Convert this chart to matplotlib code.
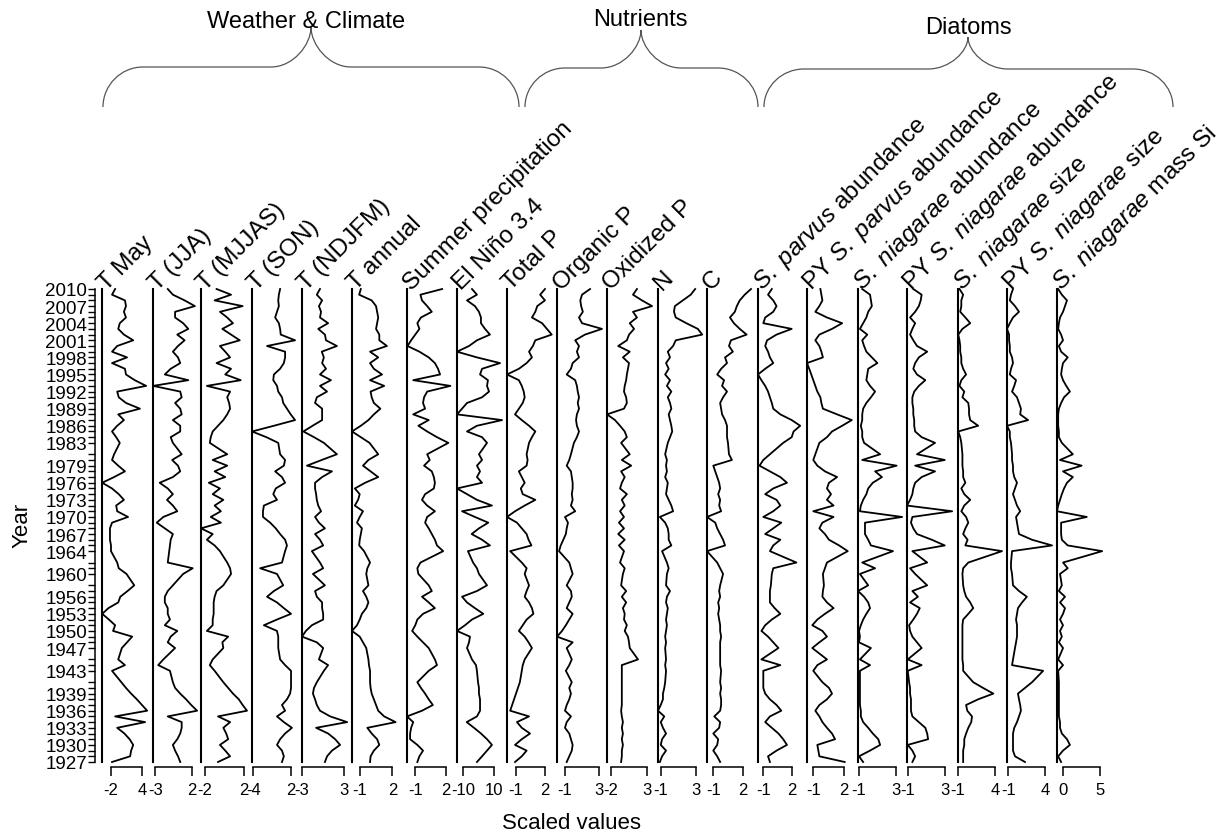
import matplotlib.pyplot as plt
from matplotlib.path import Path
from matplotlib.patches import PathPatch

plt.rcParams['font.family'] = ['Liberation Sans', 'DejaVu Sans']
plt.rcParams['mathtext.fontset'] = 'custom'
plt.rcParams['mathtext.rm'] = 'Liberation Sans'
plt.rcParams['mathtext.it'] = 'Liberation Sans:italic'

W, H = 1225, 837
TOP, BOT = 290, 763      # pixel rows of 2010 and 1927
PW = 46                  # panel width, pixels

# sample years, top to bottom
years = [2010, 2009, 2008, 2007, 2006, 2005, 2004, 2003, 2002, 2001,
         2000, 1999, 1998, 1997, 1996, 1995, 1994, 1993, 1992, 1991,
         1990, 1989, 1988, 1987, 1986, 1985, 1984, 1983, 1981, 1980,
         1979, 1978, 1977, 1976, 1975, 1974, 1973, 1972, 1971, 1970,
         1969, 1968, 1967, 1966, 1965, 1964, 1962, 1961, 1960, 1958,
         1957, 1956, 1955, 1954, 1953, 1952, 1951, 1950, 1949, 1948,
         1947, 1945, 1944, 1943, 1941, 1940, 1939, 1938, 1937, 1936,
         1935, 1934, 1933, 1932, 1931, 1930, 1929, 1928, 1927]

t_may = [-1.2, -1.8, 0.7, 0.9, 0.5, 0.9, -0.3, -0.6, 0.5, 2.3,
         -0.8, -1.8, 1.1, -1.8, 0.7, 0.9, 2.6, 4.8, -0.8, -0.5,
         0.9, 3.6, -0.6, 0.5, -0.8, -1.8, -1.0, -0.3, -1.4, -1.8,
         -0.6, 0.7, -1.4, -3.7, -1.8, -0.5, 0.5, -1.0, -0.8, 1.3,
         -1.8, -2.2, -2.2, -2.2, -2.0, -2.0, -0.8, -0.5, 1.0, 2.5,
         1.2, -0.2, -0.6, -2.5, -3.7, -2.4, -1.2, -1.6, 2.1, 1.1,
         0.1, -0.6, 0.7, -1.8, 0.0, 0.9, 1.9, 3.0, 4.0, 5.0,
         -1.2, 4.6, -0.8, 0.6, 1.6, 2.3, 1.9, 1.7, -1.8]

t_jja = [-1.3, -0.6, 1.0, 2.4, -0.3, -0.3, 0.8, 1.5, 0.0, 1.0,
         0.1, -0.6, 0.1, 0.4, -0.9, -1.7, 1.5, -3.3, 0.4, 0.6,
         -0.3, 0.4, 0.6, -0.6, 0.4, 0.4, -0.9, -0.6, 0.6, -0.7,
         0.1, 0.4, -0.6, -2.4, -1.3, -0.6, -1.4, -0.6, 0.0, -1.9,
         -2.8, -1.7, -0.6, -0.9, -1.0, -1.1, -1.3, 2.1, 0.8, -0.6,
         -1.3, -1.7, -1.7, -1.3, -1.3, -1.0, -1.7, 0.0, -0.9, -1.3,
         -0.3, -1.9, -2.6, -1.0, -0.6, -0.3, 0.4, 1.2, 1.9, 2.7,
         -1.3, 0.6, 0.6, 0.4, 0.0, -0.6, -0.3, 0.1, 0.4]

t_mjjas = [-0.8, 0.7, -1.0, 1.9, -0.45, 0.3, 0.9, -0.2, 0.7, 1.6,
           -0.45, 0.1, 0.6, -0.8, 0.7, 0.1, 1.7, -1.8, 0.6, 0.3,
           0.5, 0.6, 0.3, -0.1, -0.65, -1.2, -1.4, -1.5, 0.3, -1.2,
           0.3, -1.0, 0.1, -1.6, -0.45, -1.2, -0.1, -1.0, -0.35, -1.4,
           -0.35, -2.41, -1.2, -1.8, -1.0, -0.45, 0.3, 0.6, 0.7, -0.1,
           -0.8, -1.0, -1.1, -1.1, -1.1, -1.2, -1.2, -1.8, 0.4, -0.2,
           -0.1, -1.2, -1.5, -1.0, -0.1, 0.4, 0.9, 1.5, 1.9, 2.35,
           -0.65, 0.6, -0.1, 0.2, 0.4, -0.45, 0.1, 0.6, -0.65]

t_son = [0.3, 0.1, 0.0, 0.1, -0.2, -0.5, 0.1, 0.3, 0.4, 2.7,
         -1.8, 1.1, 1.1, 0.9, 0.3, -0.7, -0.8, -0.2, 0.0, 0.6,
         0.8, 1.4, 2.0, 2.7, -0.7, -4.21, -1.9, 0.0, 0.3, 1.1,
         0.9, -0.5, 0.6, 1.1, -0.4, -0.8, -0.2, -2.3, -2.45, -2.45,
         -1.3, -0.4, 0.3, 1.1, 1.4, 1.1, 0.6, -2.9, -0.2, 0.8,
         -0.7, -1.8, -0.2, 0.9, 2.05, -0.2, -2.3, -0.2, 0.0, 0.0,
         0.0, 0.3, 1.1, 2.05, 2.05, 2.05, 1.9, 1.4, 0.6, 1.1,
         -0.2, 0.9, 2.2, 1.1, 0.3, -0.2, 0.6, 0.9, 0.6]

t_ndjfm = [-0.45, -0.9, -0.15, -0.6, -0.3, -0.45, 0.7, -0.7, 0.25, 0.4,
           1.95, -0.2, 0.1, -0.15, 0.4, -0.45, 1.1, -0.45, 0.55, -0.9,
           -1.15, -0.15, -0.15, -0.15, -1.5, -2.8, -1.3, 0.1, 1.95, -0.2,
           -2.3, 1.25, -0.15, -1.15, -1.15, -1.0, -0.9, -0.7, -0.3, -1.15,
           -0.6, 0.25, -1.15, -0.45, 0.0, -1.6, -0.45, 0.0, -1.45, 0.25,
           -1.15, -0.9, -0.15, -0.15, 0.0, 0.0, -1.6, -2.45, -3.0, -0.9,
           0.0, -0.6, 0.7, 0.1, -0.9, -1.3, -1.45, -1.15, -0.9, -0.45,
           1.0, 3.4, -1.0, 0.7, 1.7, 2.4, 1.25, 0.55, 0.25]

t_annual = [-0.9, -1.05, 0.1, 0.5, 0.6, 0.7, 0.6, 0.5, 0.8, 0.8,
            1.5, -0.05, 0.7, -0.05, 0.3, 1.05, -0.05, 1.25, 0.0, 0.1,
            0.3, 0.9, 0.3, -0.2, -0.9, -1.71, -0.9, -0.1, 0.7, -0.2,
            -0.7, 0.0, 0.7, -0.5, -1.45, -1.0, -1.15, -1.45, -0.7, -1.0,
            -1.25, -0.8, -0.9, -1.0, -1.05, -0.6, -0.05, -0.3, -0.4, -0.2,
            -0.7, -0.4, -0.2, -0.4, -0.8, -1.0, -1.25, -1.71, -1.0, -0.7,
            -0.4, -0.2, -0.15, -0.05, -0.05, 0.0, 0.1, 0.3, 0.5, 0.7,
            1.25, 2.3, -0.3, 0.1, 0.6, 0.8, 0.3, 0.0, -0.05]

summer_precip = [1.6, -0.5, -0.35, 0.15, 0.6, -0.45, -0.8, -0.6, -1.0, -1.4,
                 -1.75, -0.6, 0.3, 0.9, 1.2, 1.4, -1.2, 2.4, 0.15, -0.15,
                 -0.25, -0.05, -1.2, 0.3, -0.7, 0.15, 1.1, 2.2, 0.15, 0.4,
                 -0.15, 0.6, 0.8, 0.9, 0.8, -0.05, -0.35, 0.15, 0.9, 0.15,
                 -0.05, 0.3, 0.6, 0.9, 1.1, 1.7, -0.5, -0.8, -0.7, 0.3,
                 0.6, -0.35, 0.3, 0.9, -0.25, -0.8, -1.0, -1.3, -0.8, -0.25,
                 0.3, 0.9, 1.1, 0.3, -0.8, -0.45, -0.05, 0.3, 0.7, -0.35,
                 -1.8, -1.2, -1.4, -1.5, -1.5, -0.8, -0.25, -0.6, -0.8]

el_nino = [-4.4, -1.2, -7.6, -2.5, 0.1, 1.4, 1.4, 4.0, 7.2, -1.2,
           -6.3, -14.06, -1.2, 13.7, 2.1, 0.8, 5.9, 5.3, 6.6, 2.1,
           -7.6, -10.8, -14.06, 15.0, -1.2, -7.6, 2.1, 5.3, 0.1, 2.1,
           -1.2, 0.8, -1.2, 2.1, -14.06, -7.6, -1.2, 8.5, -10.8, -2.5,
           6.1, 0.1, -4.6, 2.1, 7.2, -7.0, -3.7, -1.2, 0.1, 5.3,
           -1.2, -10.8, -7.6, -2.5, 2.9, -4.4, -8.9, -14.06, -5.7, -6.3,
           -7.6, -4.4, -1.8, -1.2, -0.5, 0.1, 0.1, 0.8, 0.8, 0.8,
           -1.2, -7.8, -3.1, 1.4, 5.3, 8.5, 5.3, 2.1, -1.2]

total_p = [2.0, 1.5, 2.0, 1.2, 1.0, 0.65, 1.7, 2.2, 2.7, 1.0,
           0.75, 0.35, 0.65, 0.1, -0.7, -1.93, -0.7, -0.4, -0.2, -0.1,
           -0.3, -0.7, -1.1, -0.4, 0.35, 1.0, 0.65, 0.35, 0.1, 0.2,
           0.1, -0.7, -0.4, -0.1, -0.5, -0.3, 1.0, -0.1, -1.1, -1.93,
           -0.9, -0.4, 0.1, 0.3, 0.6, -1.6, -0.4, 0.1, -0.1, 0.35,
           0.1, -0.1, 0.35, 0.65, 0.8, 0.1, -0.3, -0.7, -0.1, 0.3,
           0.65, -0.1, -0.3, -0.4, -0.6, -0.8, -1.0, -1.2, -1.4, -1.6,
           0.35, -0.9, -0.4, 0.45, -0.4, -1.1, 0.1, -0.4, -1.1]

organic_p = [1.95, 1.0, 0.8, 0.9, 1.1, 0.65, 1.0, 3.35, 1.35, 0.2,
             0.65, 0.4, 0.65, -0.1, -0.3, -0.8, 0.2, 0.4, 0.5, 0.65,
             0.5, 0.65, 0.4, 0.3, 0.4, 0.65, 0.4, 0.05, -0.3, -0.5,
             -0.8, -0.3, -0.2, -0.1, -0.1, -0.2, -0.1, -0.3, 0.2, -1.0,
             -0.65, -0.8, -0.9, -1.2, -1.5, -1.7, -0.5, -0.3, -0.1, -0.8,
             -0.3, -0.2, -0.5, -0.8, -0.1, -0.5, -0.9, -1.35, -1.94, -0.1,
             -0.8, -0.2, -0.5, -0.9, -0.2, -0.5, -0.3, -0.5, -0.8, -1.0,
             -0.3, -0.8, -1.0, -0.5, -0.3, -0.1, -0.2, -0.5, -0.8]

oxidized_p = [1.6, 1.05, 2.3, 3.7, 1.05, 1.6, 0.6, 1.2, 0.5, 0.2,
              -1.0, 0.6, -0.35, 0.5, 0.35, 0.2, 0.1, -0.1, -0.2, 0.1,
              0.2, -0.2, -2.56, -1.45, -0.75, -0.1, 0.2, -0.6, 0.6, -0.5,
              0.8, -0.6, -0.1, -0.5, -0.75, 0.2, -0.5, -0.1, -0.75, -0.2,
              -0.9, -0.2, -1.0, -0.1, -0.9, -0.2, -0.75, -0.1, -0.35, -0.6,
              0.1, -0.5, 0.1, -0.35, -0.1, -0.2, 0.2, -0.1, 0.35, 0.5,
              0.6, 1.75, -0.5, -0.5, -0.5, -0.5, -0.5, -0.5, -0.5, -0.6,
              -0.5, -0.35, -0.5, -0.35, -0.5, -0.35, -0.5, -0.5, -0.6]

nitrogen = [2.9, 2.4, 1.5, 0.6, 0.5, 0.7, 1.9, 3.2, 3.7, 0.7,
            0.4, -0.2, 0.05, -0.4, -0.1, -0.5, 0.05, -0.3, 0.2, -0.2,
            0.05, 0.2, -0.1, 0.05, 0.2, 0.3, 0.05, -0.2, -0.5, -0.3,
            -0.4, -0.3, -0.5, -0.2, -0.3, -0.4, -0.1, 0.2, 0.4, -1.1,
            -0.5, -0.2, -0.1, -0.1, 0.2, -0.85, -0.3, -0.1, -0.3, -0.4,
            0.05, -0.3, -0.4, -0.2, -0.3, -0.4, -0.3, -0.4, -0.5, -0.4,
            -0.5, -0.4, -0.5, -0.4, -0.5, -0.6, -0.75, -0.75, -1.0, -1.31,
            -0.6, -1.0, -0.75, -0.4, -0.85, -1.0, -0.4, -0.85, -1.1]

carbon = [2.85, 2.2, 1.7, 1.4, 1.2, 0.7, 1.1, 1.7, 2.4, 0.8,
          0.6, 1.0, 0.2, 0.4, -0.2, -0.6, 0.1, -0.1, 0.4, 0.0,
          -0.3, -0.2, -0.1, 0.2, 0.4, 0.4, 0.4, 0.5, 0.6, 0.9,
          -1.0, -0.8, -0.6, -0.4, -0.3, -0.5, -0.3, -0.4, -0.2, -1.64,
          -0.8, -0.6, -0.3, 0.0, 0.2, -1.64, -0.6, -0.3, 0.0, -0.3,
          -0.4, -0.3, -0.5, -0.4, -0.5, -0.4, -0.3, -0.3, -0.2, -0.3,
          -0.3, -0.3, -0.3, -0.2, -0.3, -0.2, -0.3, -0.2, -0.2, -0.3,
          -0.9, -0.3, -0.4, -1.0, -0.5, -0.6, -1.0, -0.6, -0.3]

sp_abund = [-0.1, -0.5, 0.05, 0.4, 0.05, -0.8, -1.0, 2.0, 0.4, -0.6,
            -0.8, -0.5, -0.3, 0.05, -0.8, -1.56, -1.2, -0.8, -0.5, -0.3,
            -0.1, 0.05, 0.8, 2.0, 2.9, 2.2, 2.0, 1.1, -0.3, -1.0,
            -1.4, -0.3, 0.8, 1.5, 0.05, -0.8, 0.4, 0.8, 0.05, -1.0,
            0.9, 0.05, -0.8, 0.8, 0.05, -0.3, 2.5, 0.05, -0.1, -0.2,
            -0.3, -0.3, -0.3, 0.2, 0.8, -0.1, -0.8, -1.2, -0.5, 0.05,
            0.6, -1.2, 0.8, -1.0, -1.0, -1.0, -0.8, -0.3, 0.4, 0.9,
            -0.3, -0.8, -0.1, 0.6, 1.1, 1.5, 0.4, -0.5, -0.3]

py_sp_abund = [-0.3, -0.2, -0.1, -0.4, -0.8, 0.35, 1.85, 0.85, -0.4, -0.8,
               -0.4, -0.2, -0.05, -1.62, -1.4, -1.2, -1.0, -0.8, -0.6, -0.3,
               -0.2, -0.05, 1.35, 2.8, 1.85, 0.85, 0.35, -0.4, -0.8, -1.0,
               -0.6, 0.15, 1.35, 0.55, 0.35, 0.75, 0.35, 1.0, -1.0, 1.0,
               -0.1, -0.4, 0.15, 0.55, 1.55, 2.4, 0.35, 0.15, -0.05, 0.05,
               -0.05, -0.1, 0.35, 1.0, 0.15, -0.6, -1.1, -0.1, 0.35, -0.4,
               -1.1, 0.35, -0.6, -1.0, -0.1, 0.55, 0.85, 0.35, -0.4, -0.8,
               -0.4, -0.1, 0.35, 0.85, 1.15, -0.6, -0.5, -0.4, 2.1]

sn_abund = [-0.65, 0.2, 0.3, 0.4, 0.0, -0.2, -0.55, -0.9, -0.1, -0.65,
            -0.45, -0.2, 0.4, 1.0, 0.0, -0.1, -0.2, 0.2, 0.75, 0.3,
            -0.2, -0.55, -0.65, -0.65, -0.8, -0.65, -0.65, -0.45, 1.3, -0.65,
            3.1, 0.75, 1.5, 0.5, 0.0, -0.2, -0.55, -0.8, -0.9, 3.7,
            -0.35, -0.35, -0.35, 0.0, 0.3, 2.7, -0.65, 0.75, -0.9, 0.0,
            -1.11, -0.45, 0.0, 0.2, -0.2, -0.55, -0.8, -1.0, -0.9, -1.0,
            0.3, -0.9, 0.2, -0.9, -0.9, -0.9, -0.9, -0.9, -0.9, -0.8,
            -0.8, -0.55, 0.0, 0.5, 1.1, 1.3, 0.2, -1.0, -0.55]

py_sn_abund = [-0.4, 0.5, 0.4, 0.2, -0.2, -0.75, -0.2, -0.5, -0.75, -0.4,
               0.0, 1.1, 0.2, -0.2, -0.4, 0.0, 0.9, 0.2, -0.3, -0.5,
               -0.5, -0.4, -0.4, -0.3, -0.3, -0.2, 0.5, 1.95, 0.0, 3.0,
               -0.2, 1.95, 0.5, -0.2, -0.4, -0.5, -0.75, -1.08, 3.8, -0.5,
               -0.65, -0.4, 0.0, 1.6, 3.0, -0.5, 1.1, -0.75, -0.2, 1.1,
               -0.5, 0.1, -0.75, 0.3, 0.0, -0.4, -0.85, -0.75, -0.5, 0.0,
               0.5, -1.0, 0.5, -1.0, -0.85, -0.75, -0.75, -0.65, -0.65, -0.65,
               -0.5, 0.2, 0.9, 1.1, 1.2, -1.0, -0.5, -0.2, -0.5]

sn_size = [-0.8, -0.3, -0.55, -0.55, -0.7, 0.0, 0.66, -0.4, -0.96, -0.8,
           -0.7, -0.7, -0.55, -0.55, -0.3, 0.1, -0.55, -0.8, -0.15, -0.4,
           0.4, 0.5, 0.5, 0.66, 1.74, -0.96, -0.7, -0.55, -0.4, -0.4,
           -0.4, -0.3, -0.3, 0.0, -0.55, -0.15, 0.66, -0.15, -0.55, 0.1,
           0.4, 0.0, -0.3, 0.3, 0.0, 4.98, 0.4, -0.3, -0.4, -0.3,
           -0.15, 0.1, 0.66, 1.07, 0.4, -0.3, -0.4, -0.4, -0.4, -0.4,
           -0.4, -0.4, -0.3, -0.3, 1.07, 2.4, 3.8, 1.74, 0.1, 0.26,
           0.9, 0.8, 0.4, 0.1, -0.15, -0.15, -0.3, -0.3, -0.3]

py_sn_size = [-0.37, -0.64, -0.8, -0.1, 0.44, -0.37, -0.8, -1.18, -0.9, -0.9,
              -0.8, -0.8, -0.5, -0.37, -0.64, -0.8, 0.04, -0.2, -0.5, 0.17,
              0.44, 0.7, 0.6, 1.66, -1.18, -0.8, -0.8, -0.64, -0.5, -0.5,
              -0.37, -0.37, -0.2, 0.17, -0.1, -0.37, -0.1, 0.17, 0.6, 0.04,
              0.17, 0.3, 0.44, 2.2, 4.9, -0.5, -0.64, -0.64, -0.5, -0.37,
              0.44, 1.5, 0.85, 0.3, 0.17, 0.04, 0.17, 0.17, 0.17, 0.04,
              -0.1, -0.37, -0.5, 3.7, 2.2, 1.25, 0.3, 0.44, 0.6, 0.7,
              0.44, 0.17, -0.2, -0.37, -0.37, -0.37, -0.37, -0.1, 1.25]

sn_mass_si = [-0.7, -0.2, 0.5, 0.23, -0.04, -0.45, -0.6, -0.7, -0.3, -0.04,
              -0.6, -0.3, 0.6, -0.04, -0.2, -0.3, -0.04, 0.4, 0.9, 0.1,
              -0.3, -0.6, -0.7, -0.7, -0.7, -0.6, -0.6, -0.2, 1.3, -0.45,
              2.5, -0.04, 1.3, 0.5, 0.1, -0.2, -0.45, -0.7, -0.86, 3.2,
              -0.3, -0.3, -0.3, -0.2, 0.6, 5.3, -0.04, 0.6, -0.45, -0.2,
              -0.6, 0.23, -0.45, 0.23, -0.04, -0.45, -0.04, -0.45, -0.2, -0.6,
              -0.04, -0.7, -0.04, -0.7, -0.6, -0.6, -0.6, -0.6, -0.6, -0.6,
              -0.6, -0.45, -0.45, -0.2, 0.5, 0.9, -0.04, -0.7, -0.3]

labels = ['T May', 'T (JJA)', 'T (MJJAS)', 'T (SON)', 'T (NDJFM)', 'T annual',
          'Summer precipitation', 'El Niño 3.4', 'Total P', 'Organic P',
          'Oxidized P', 'N', 'C',
          r'$\it{S.\ parvus}$ abundance', r'PY $\it{S.\ parvus}$ abundance',
          r'$\it{S.\ niagarae}$ abundance', r'PY $\it{S.\ niagarae}$ abundance',
          r'$\it{S.\ niagarae}$ size', r'PY $\it{S.\ niagarae}$ size',
          r'$\it{S.\ niagarae}$ mass Si']
series = [t_may, t_jja, t_mjjas, t_son, t_ndjfm, t_annual, summer_precip,
          el_nino, total_p, organic_p, oxidized_p, nitrogen, carbon,
          sp_abund, py_sp_abund, sn_abund, py_sn_abund, sn_size, py_sn_size,
          sn_mass_si]
tick_pairs = [(-2, 4), (-3, 2), (-2, 2), (-4, 2), (-3, 3), (-1, 2), (-1, 2),
              (-10, 10), (-1, 2), (-1, 3), (-2, 3), (-1, 3), (-1, 2), (-1, 2),
              (-1, 2), (-1, 3), (-1, 3), (-1, 4), (-1, 4), (0, 5)]
x_limits = [(-3.74, 5.16), (-3.31, 2.96), (-2.41, 2.35), (-4.21, 3.17),
            (-3.0, 3.52), (-1.71, 2.52), (-1.80, 2.65), (-14.06, 15.61),
            (-1.93, 2.83), (-1.94, 3.47), (-2.56, 3.83), (-1.31, 3.90),
            (-1.64, 3.05), (-1.56, 3.30), (-1.62, 2.92), (-1.11, 3.90),
            (-1.08, 3.89), (-0.96, 5.25), (-1.18, 5.03), (-0.86, 5.41)]
panel_x = [102, 153, 201, 252, 302, 352, 407, 457, 507, 557,
           607, 658, 707, 758, 807, 858, 907, 958, 1007, 1057]

groups = ['Weather & Climate', 'Nutrients', 'Diatoms']


def box(x, y, w, h):
    return [x / W, 1 - (y + h) / H, w / W, h / H]


fig = plt.figure(figsize=(W / 100, H / 100), dpi=100)

# overlay in pixel coordinates for braces and headings
ov = fig.add_axes([0, 0, 1, 1])
ov.set_xlim(0, W)
ov.set_ylim(H, 0)
ov.axis('off')

for name, vals, tk, lim, x0 in zip(labels, series, tick_pairs, x_limits, panel_x):
    ax = fig.add_axes(box(x0, TOP, PW, BOT - TOP))
    ax.patch.set_alpha(0)
    ax.plot(vals, years, color='black', lw=1.3, clip_on=False)
    ax.set_xlim(lim)
    ax.set_ylim(min(years), max(years))
    for s in ('top', 'right'):
        ax.spines[s].set_visible(False)
    ax.spines['left'].set_linewidth(1.5)
    ax.spines['bottom'].set_position(('outward', 3.6))
    ax.spines['bottom'].set_bounds(tk[0], tk[1])
    ax.spines['bottom'].set_linewidth(1.1)
    ax.set_yticks([])
    ax.set_xticks(list(tk))
    ax.set_xticklabels([str(v) for v in tk])
    ax.tick_params(axis='x', direction='out', length=6.5, width=1.1,
                   labelsize=12, pad=4)
    ov.text(x0 + 4, TOP + 1, name, rotation=45, rotation_mode='anchor',
            ha='left', va='baseline', fontsize=17.5)

# year axis
ay = fig.add_axes(box(95, TOP, 0.5, BOT - TOP))
ay.patch.set_alpha(0)
ay.set_ylim(min(years), max(years))
ay.set_xticks([])
for s in ('top', 'right', 'bottom'):
    ay.spines[s].set_visible(False)
ay.spines['left'].set_linewidth(1.1)
ay.set_yticks(years[::3])
ay.set_yticklabels([str(y) for y in years[::3]])
ay.set_yticks(years, minor=True)
ay.tick_params(axis='y', which='both', direction='out', length=5, width=1.0,
               labelsize=13.5, pad=0.5)

ov.text(22, 525, 'Year', rotation=90, ha='center', va='center', fontsize=16)
ov.text(572, 824, 'Scaled values', ha='center', va='center', fontsize=16)


def brace(x0, x1, xc, y_end, y_bar, y_tip, r=40):
    k = 0.55
    verts = [(x0, y_end),
             (x0, y_end - k * (y_end - y_bar)), (x0 + (1 - k) * r, y_bar), (x0 + r, y_bar),
             (xc - r, y_bar),
             (xc - (1 - k) * r, y_bar), (xc, y_bar - k * (y_bar - y_tip)), (xc, y_tip),
             (xc, y_bar - k * (y_bar - y_tip)), (xc + (1 - k) * r, y_bar), (xc + r, y_bar),
             (x1 - r, y_bar),
             (x1 - (1 - k) * r, y_bar), (x1, y_end - k * (y_end - y_bar)), (x1, y_end)]
    codes = [Path.MOVETO] + [Path.CURVE4] * 3 + [Path.LINETO] + [Path.CURVE4] * 6 + \
            [Path.LINETO] + [Path.CURVE4] * 3
    ov.add_patch(PathPatch(Path(verts, codes), fill=False, edgecolor='#555555', lw=0.9))


brace(103, 519, 311, 108, 68, 28)
brace(525, 758, 641, 108, 69, 31)
brace(764, 1173, 968, 108, 70, 38)

ov.text(306, 28, groups[0], ha='center', va='baseline', fontsize=17)
ov.text(640, 26, groups[1], ha='center', va='baseline', fontsize=17)
ov.text(968, 34, groups[2], ha='center', va='baseline', fontsize=17)

fig.savefig('out.png', dpi=100)
